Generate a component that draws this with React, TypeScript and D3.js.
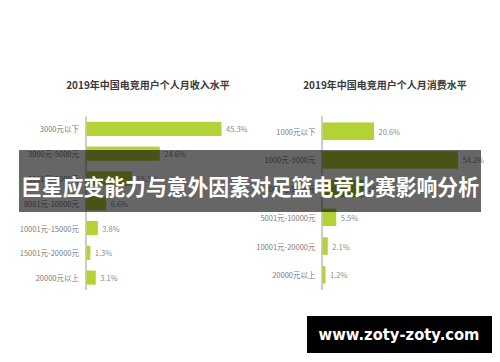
import React from "react";
import * as d3 from "d3";

// 月收入
const incomeCats = [
  "3000元以下",
  "3000元-5000元",
  "5001元-8000元",
  "8001元-10000元",
  "10001元-15000元",
  "15001元-20000元",
  "20000元以上",
];
const incomeVals = [45.3, 24.6, 15.3, 6.6, 3.8, 1.3, 3.1];

// 月消费
const spendCats = [
  "1000元以下",
  "1000元-3000元",
  "3001元-5000元",
  "5001元-10000元",
  "10001元-20000元",
  "20000元以上",
];
const spendVals = [20.6, 54.2, 16.4, 5.5, 2.1, 1.2];

const titles = ["2019年中国电竞用户个人月收入水平", "2019年中国电竞用户个人月消费水平"];
const bannerText = "巨星应变能力与意外因素对足篮电竞比赛影响分析";
const watermark = "www.zoty-zoty.com";

const W = 500;
const H = 362;
const green = "#b3d236";
const font = "'Noto Sans CJK SC', 'Noto Sans', sans-serif";

type PanelProps = {
  cats: string[];
  vals: number[];
  title: string;
  titleX: number;
  x0: number;
  pxPerPct: number;
  yRange: [number, number];
  padIn: number;
  padOut: number;
  labelGap: number;
};

const Panel = ({ cats, vals, title, titleX, x0, pxPerPct, yRange, padIn, padOut, labelGap }: PanelProps) => {
  const x = d3.scaleLinear().domain([0, 60]).range([x0, x0 + 60 * pxPerPct]);
  const y = d3.scaleBand<string>().domain(cats).range(yRange).paddingInner(padIn).paddingOuter(padOut);
  return (
    <g>
      <text x={titleX} y={86} textAnchor="middle" dominantBaseline="middle" fontFamily={font} fontWeight="bold" fontSize={10} fill="#3a3a3a">
        {title}
      </text>
      <line x1={x(0)} x2={x(0)} y1={yRange[0]} y2={yRange[1]} stroke="#9a9a9a" strokeWidth={1} />
      {cats.map((c, i) => (
        <g key={c}>
          <rect x={x(0) + 0.5} y={y(c)} width={x(vals[i]) - x(0)} height={y.bandwidth()} fill={green} />
          <text x={x(0) - labelGap} y={(y(c) as number) + y.bandwidth() / 2} textAnchor="end" dominantBaseline="central" fontFamily={font} fontSize={7.5} fill="#7a7a7a">
            {c}
          </text>
          <text x={x(vals[i]) + 5} y={(y(c) as number) + y.bandwidth() / 2} dominantBaseline="central" fontFamily={font} fontSize={7.5} fill="#8a8a8a">
            {vals[i].toFixed(1)}%
          </text>
        </g>
      ))}
    </g>
  );
};

export default function App() {
  return (
    <div style={{ position: "absolute", left: 0, top: 0 }}>
      <svg width={W} height={H} style={{ display: "block", background: "#fff" }}>
        <Panel
          cats={incomeCats}
          vals={incomeVals}
          title={titles[0]}
          titleX={148}
          x0={86}
          pxPerPct={2.98}
          yRange={[116.5, 290]}
          padIn={0.43}
          padOut={0.215}
          labelGap={7}
        />
        <Panel
          cats={spendCats}
          vals={spendVals}
          title={titles[1]}
          titleX={385}
          x0={322}
          pxPerPct={2.5}
          yRange={[116, 290]}
          padIn={0.39}
          padOut={0.225}
          labelGap={6.5}
        />
        <rect x={19} y={150} width={462} height={62} fill="#000" fillOpacity={0.6} />
        <text x={250} y={185} textAnchor="middle" dominantBaseline="central" fontFamily={font} fontWeight="bold" fontSize={22} fill="#fff" textLength={458} lengthAdjust="spacingAndGlyphs">
          {bannerText}
        </text>
        <rect x={307} y={316} width={185} height={37} fill="#000" />
        <text x={399} y={334.5} textAnchor="middle" dominantBaseline="central" fontFamily="'DejaVu Sans', sans-serif" fontWeight="bold" fontSize={15} fill="#fff" textLength={161} lengthAdjust="spacingAndGlyphs">
          {watermark}
        </text>
      </svg>
    </div>
  );
}
